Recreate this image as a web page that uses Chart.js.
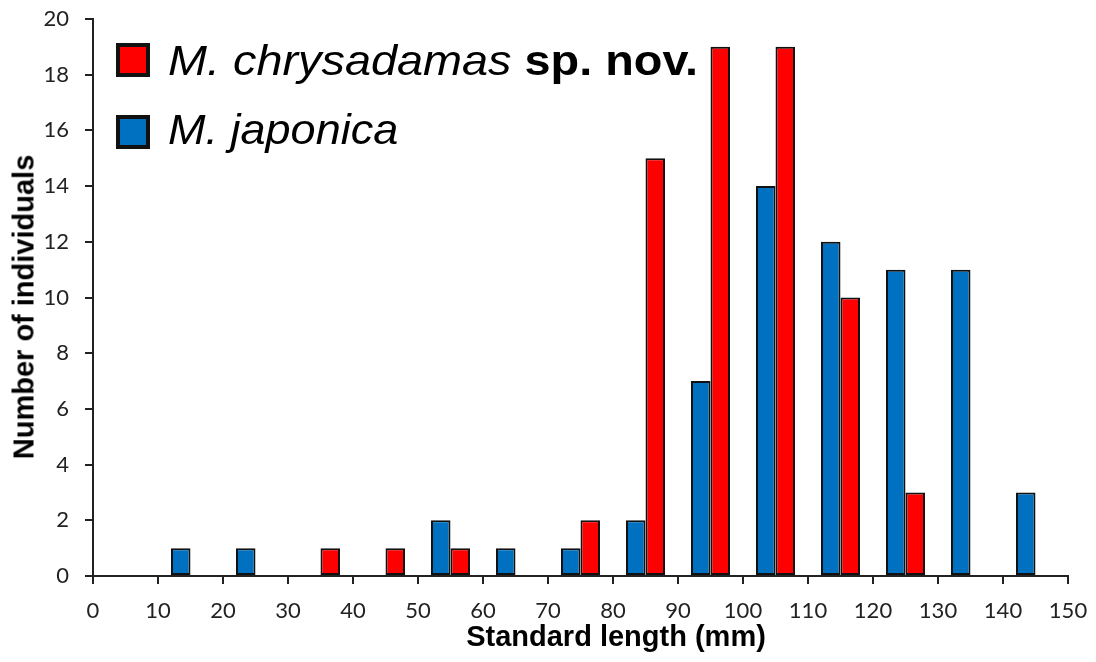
<!DOCTYPE html>
<html>
<head>
<meta charset="utf-8">
<script src="https://cdn.jsdelivr.net/npm/chart.js@4"></script>
<style>
  html, body { margin: 0; padding: 0; background: #fff; }
  #wrap { position: relative; width: 1096px; height: 662px; overflow: hidden; }
  #c { position: absolute; left: 0; top: 0; }
  .sq { position: absolute; width: 34px; height: 34px; box-sizing: border-box; border: 4px solid #111; }
  .lt { position: absolute; font-family: "Liberation Sans", Arial, sans-serif; font-size: 43px; line-height: 43px; color: #000; white-space: nowrap; transform-origin: 0 0; }
  .lt i { font-style: italic; }
  .lt b { font-weight: bold; }
  .ttl { position: absolute; font-family: "Liberation Sans", Arial, sans-serif; font-weight: bold; font-size: 29px; line-height: 29px; color: #000; white-space: nowrap; }
</style>
</head>
<body>
<div id="wrap">
  <canvas id="c" width="1096" height="662"></canvas>
  <div class="sq" style="left:116px; top:43px; background:#FF0000;"></div>
  <div class="lt" style="left:168px; top:39px; transform: scaleX(1.089);"><i>M. chrysadamas</i> <b>sp. nov.</b></div>
  <div class="sq" style="left:116px; top:115px; background:#0070C0;"></div>
  <div class="lt" style="left:168px; top:108px; transform: scaleX(1.047);"><i>M. japonica</i></div>
  <div class="ttl" id="xt" style="left:616px; top:622px; transform: translateX(-50%);">Standard length (mm)</div>
  <div class="ttl" id="yt" style="left:24px; top:307px; transform: translate(-50%,-50%) rotate(-90deg);">Number of individuals</div>
</div>
<script>
// Bin centres (mm) for 10 mm length classes
const binCenters = [15, 25, 35, 45, 55, 65, 75, 85, 95, 105, 115, 125, 135, 145];
// M. japonica counts per bin
const japonica = [1, 1, 0, 0, 2, 1, 1, 2, 7, 14, 12, 11, 11, 3];
// M. chrysadamas sp. nov. counts per bin
const chrysadamas = [0, 0, 1, 1, 1, 0, 2, 15, 19, 19, 10, 3, 0, 0];
// Axis tick settings
const xTicks = [0, 10, 20, 30, 40, 50, 60, 70, 80, 90, 100, 110, 120, 130, 140, 150];
const yTicks = [0, 2, 4, 6, 8, 10, 12, 14, 16, 18, 20];

const toPoints = arr => binCenters.map((x, i) => ({ x: x, y: arr[i] === 0 ? null : arr[i] }));

const axisColor = '#222';
const tickFont = { family: 'Lato, "Open Sans", sans-serif', size: 22 };

new Chart(document.getElementById('c'), {
  type: 'bar',
  data: {
    datasets: [
      { label: 'M. japonica', data: toPoints(japonica), backgroundColor: '#0070C0',
        borderColor: '#111', borderWidth: 2, borderSkipped: false },
      { label: 'M. chrysadamas sp. nov.', data: toPoints(chrysadamas), backgroundColor: '#FF0000',
        borderColor: '#111', borderWidth: 2, borderSkipped: false }
    ]
  },
  options: {
    responsive: false,
    animation: false,
    devicePixelRatio: 1,
    layout: { padding: { top: 19, right: 28, left: 0, bottom: 0 } },
    categoryPercentage: 0.6,
    barPercentage: 1.0,
    plugins: { legend: { display: false }, tooltip: { enabled: false } },
    scales: {
      x: {
        type: 'linear',
        min: xTicks[0], max: xTicks[xTicks.length - 1],
        offset: false,
        afterBuildTicks: s => { s.ticks = xTicks.map(v => ({ value: v })); },
        afterFit: s => { s.height = 86; s.paddingLeft = 0; s.paddingRight = 0; },
        grid: { display: true, drawOnChartArea: false, drawTicks: true, tickLength: 8, color: axisColor, lineWidth: 2, offset: false },
        border: { display: true, color: axisColor, width: 2 },
        ticks: { color: '#222', font: tickFont, padding: 14, maxRotation: 0, autoSkip: false }
      },
      y: {
        type: 'linear',
        min: yTicks[0], max: yTicks[yTicks.length - 1],
        afterBuildTicks: s => { s.ticks = yTicks.map(v => ({ value: v })); },
        afterFit: s => { s.width = 93; s.paddingTop = 0; s.paddingBottom = 0; },
        grid: { display: true, drawOnChartArea: false, drawTicks: true, tickLength: 8, color: axisColor, lineWidth: 2 },
        border: { display: true, color: axisColor, width: 2 },
        ticks: { color: '#222', font: tickFont, padding: 16 }
      }
    }
  }
});
</script>
</body>
</html>
